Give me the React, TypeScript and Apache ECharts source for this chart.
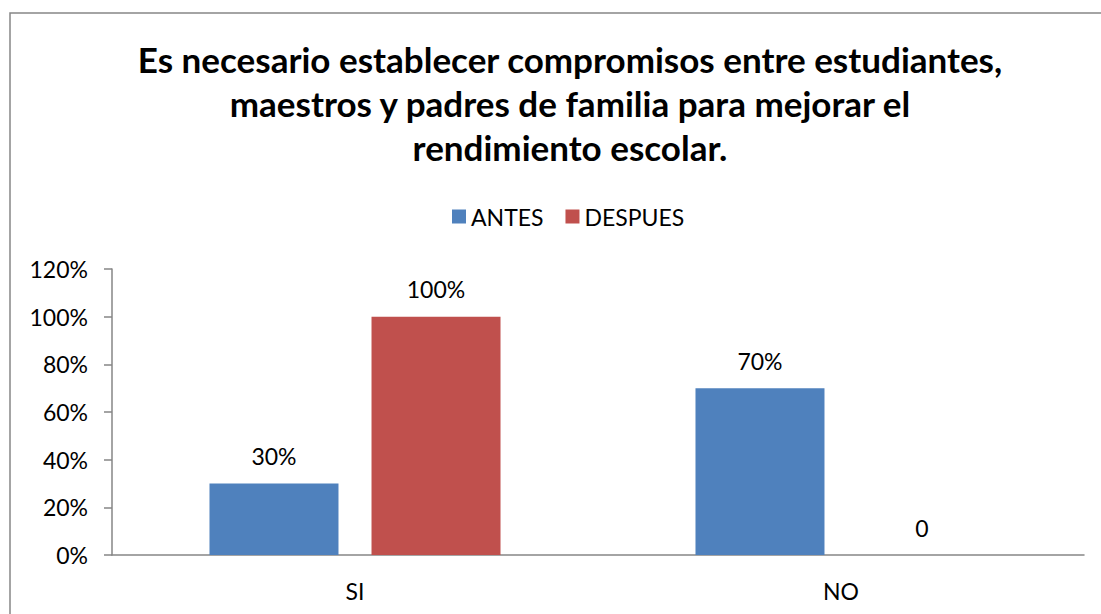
import React, { useEffect, useRef } from "react";
import * as echarts from "echarts";

const titleText =
  "Es necesario establecer compromisos entre estudiantes,\nmaestros y padres de familia para mejorar el\nrendimiento escolar.";
const categories = ["SI", "NO"];
const seriesNames = ["ANTES", "DESPUES"];
const antesValues = [30, 70];
const despuesValues = [100, 0];
const yTicks = { min: 0, max: 120, interval: 20 };

const FONT = "Lato, 'Open Sans', sans-serif";

export default function App() {
  const ref = useRef<HTMLDivElement>(null);
  useEffect(() => {
    document.body.style.margin = "0";
    const chart = echarts.init(ref.current!, null, { renderer: "svg" });
    const labelFmt = (p: any) => (p.value === 0 ? "0" : p.value + "%");
    chart.setOption({
      animation: false,
      backgroundColor: "#ffffff",
      textStyle: { fontFamily: FONT },
      title: {
        text: titleText,
        left: 565,
        textAlign: "center",
        top: 32,
        textStyle: {
          fontFamily: FONT,
          fontWeight: "bold",
          fontSize: 35,
          lineHeight: 44,
          color: "#000",
        },
      },
      graphic: [
        {
          type: "rect",
          shape: { x: 10, y: 13, width: 1200, height: 700 },
          style: { fill: "none", stroke: "#868686", lineWidth: 1.5 },
          silent: true,
        },
      ],
      legend: {
        data: seriesNames,
        left: 447,
        top: 200,
        icon: "rect",
        itemWidth: 14,
        itemHeight: 14,
        itemGap: 22,
        textStyle: { fontFamily: FONT, fontSize: 23, color: "#000" },
      },
      grid: { left: 112, right: 17, top: 269, bottom: 59 },
      xAxis: {
        type: "category",
        data: categories,
        axisLine: { lineStyle: { color: "#868686", width: 1.5 } },
        axisTick: { show: false },
        axisLabel: { fontFamily: FONT, fontSize: 23, color: "#000", margin: 24 },
      },
      yAxis: {
        type: "value",
        min: yTicks.min,
        max: yTicks.max,
        interval: yTicks.interval,
        axisLine: { show: true, lineStyle: { color: "#868686", width: 1.5 } },
        axisTick: { show: true, length: 8, lineStyle: { color: "#868686", width: 1.5 } },
        splitLine: { show: false },
        axisLabel: {
          formatter: "{value}%",
          fontFamily: FONT,
          fontSize: 23,
          color: "#000",
          margin: 24,
        },
      },
      series: [
        {
          name: seriesNames[0],
          type: "bar",
          data: antesValues,
          barWidth: 129,
          barGap: "25.6%",
          itemStyle: { color: "#4F81BD" },
          label: { show: true, position: "top", distance: 16, formatter: labelFmt, fontFamily: FONT, fontSize: 23, color: "#000" },
        },
        {
          name: seriesNames[1],
          type: "bar",
          data: despuesValues,
          barWidth: 129,
          barGap: "25.6%",
          itemStyle: { color: "#C0504D" },
          label: { show: true, position: "top", distance: 16, formatter: labelFmt, fontFamily: FONT, fontSize: 23, color: "#000" },
        },
      ],
    });
    return () => chart.dispose();
  }, []);
  return <div ref={ref} style={{ width: 1101, height: 614 }} />;
}
